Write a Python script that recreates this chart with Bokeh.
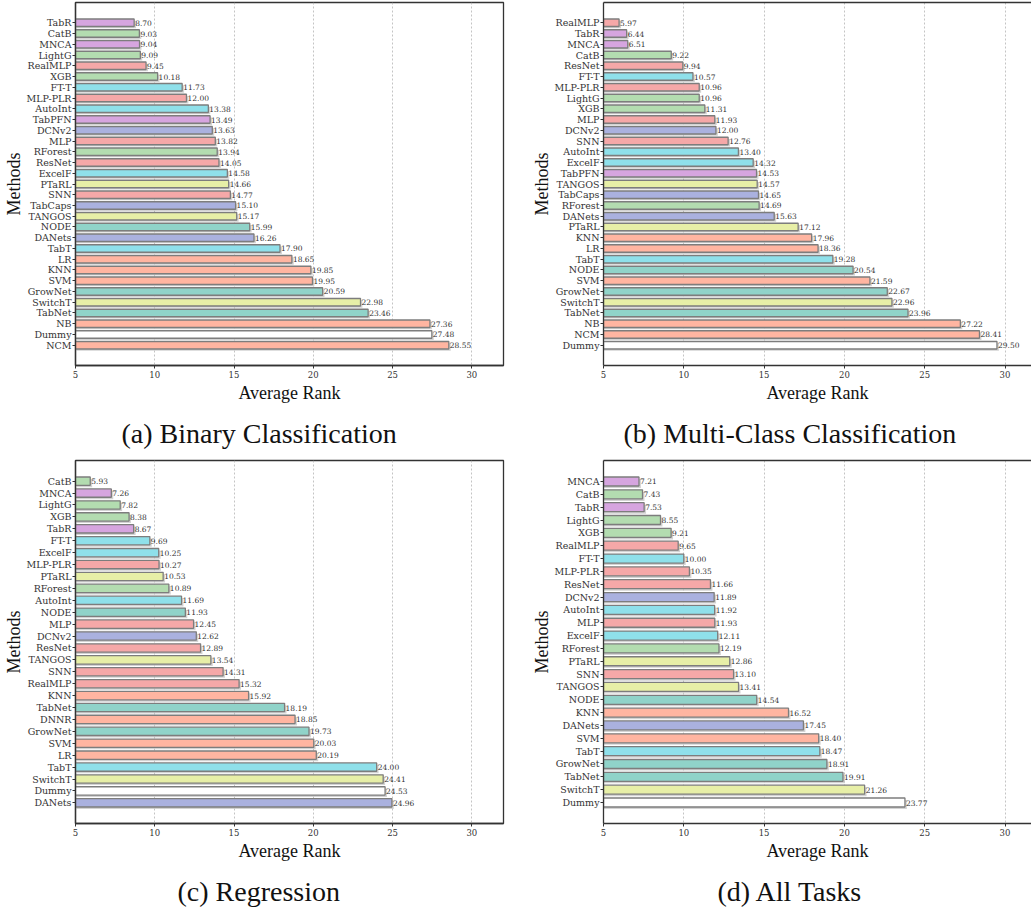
from bokeh.plotting import figure
from bokeh.models import Range1d, FixedTicker, ColumnDataSource, LinearAxis, Title
from bokeh.layouts import column, row
from bokeh.embed import file_html
from bokeh.resources import INLINE
from bokeh.core.properties import value

# ---------------- data ----------------
binary_methods = ["TabR", "CatB", "MNCA", "LightG", "RealMLP", "XGB", "FT-T", "MLP-PLR",
                  "AutoInt", "TabPFN", "DCNv2", "MLP", "RForest", "ResNet", "ExcelF", "PTaRL",
                  "SNN", "TabCaps", "TANGOS", "NODE", "DANets", "TabT", "LR", "KNN", "SVM",
                  "GrowNet", "SwitchT", "TabNet", "NB", "Dummy", "NCM"]
binary_ranks = [8.70, 9.03, 9.04, 9.09, 9.45, 10.18, 11.73, 12.00, 13.38, 13.49, 13.63, 13.82,
                13.94, 14.05, 14.58, 14.66, 14.77, 15.10, 15.17, 15.99, 16.26, 17.90, 18.65,
                19.85, 19.95, 20.59, 22.98, 23.46, 27.36, 27.48, 28.55]

multi_methods = ["RealMLP", "TabR", "MNCA", "CatB", "ResNet", "FT-T", "MLP-PLR", "LightG",
                 "XGB", "MLP", "DCNv2", "SNN", "AutoInt", "ExcelF", "TabPFN", "TANGOS",
                 "TabCaps", "RForest", "DANets", "PTaRL", "KNN", "LR", "TabT", "NODE", "SVM",
                 "GrowNet", "SwitchT", "TabNet", "NB", "NCM", "Dummy"]
multi_ranks = [5.97, 6.44, 6.51, 9.22, 9.94, 10.57, 10.96, 10.96, 11.31, 11.93, 12.00, 12.76,
               13.40, 14.32, 14.53, 14.57, 14.65, 14.69, 15.63, 17.12, 17.96, 18.36, 19.28,
               20.54, 21.59, 22.67, 22.96, 23.96, 27.22, 28.41, 29.50]

reg_methods = ["CatB", "MNCA", "LightG", "XGB", "TabR", "FT-T", "ExcelF", "MLP-PLR", "PTaRL",
               "RForest", "AutoInt", "NODE", "MLP", "DCNv2", "ResNet", "TANGOS", "SNN",
               "RealMLP", "KNN", "TabNet", "DNNR", "GrowNet", "SVM", "LR", "TabT", "SwitchT",
               "Dummy", "DANets"]
reg_ranks = [5.93, 7.26, 7.82, 8.38, 8.67, 9.69, 10.25, 10.27, 10.53, 10.89, 11.69, 11.93,
             12.45, 12.62, 12.89, 13.54, 14.31, 15.32, 15.92, 18.19, 18.85, 19.73, 20.03,
             20.19, 24.00, 24.41, 24.53, 24.96]

all_methods = ["MNCA", "CatB", "TabR", "LightG", "XGB", "RealMLP", "FT-T", "MLP-PLR", "ResNet",
               "DCNv2", "AutoInt", "MLP", "ExcelF", "RForest", "PTaRL", "SNN", "TANGOS", "NODE",
               "KNN", "DANets", "SVM", "TabT", "GrowNet", "TabNet", "SwitchT", "Dummy"]
all_ranks = [7.21, 7.43, 7.53, 8.55, 9.21, 9.65, 10.00, 10.35, 11.66, 11.89, 11.92, 11.93,
             12.11, 12.19, 12.86, 13.10, 13.41, 14.54, 16.52, 17.45, 18.40, 18.47, 18.91,
             19.91, 21.26, 23.77]

captions = ["(a) Binary Classification", "(b) Multi-Class Classification",
            "(c) Regression", "(d) All Tasks"]
x_ticks = [5, 10, 15, 20, 25, 30]

# ---------------- styles ----------------
family_colors = {
    "purple": "#d6a5df", "green": "#b3dcb0", "pink": "#f5a8a8", "cyan": "#8fe0ea",
    "lavender": "#aab1df", "yellow": "#e7efa7", "teal": "#90d3c9", "salmon": "#ffb5a1",
    "white": "#ffffff",
}
method_family = {
    "TabR": "purple", "MNCA": "purple", "TabPFN": "purple",
    "CatB": "green", "LightG": "green", "XGB": "green", "RForest": "green",
    "RealMLP": "pink", "MLP-PLR": "pink", "MLP": "pink", "ResNet": "pink", "SNN": "pink",
    "FT-T": "cyan", "AutoInt": "cyan", "ExcelF": "cyan", "TabT": "cyan",
    "DCNv2": "lavender", "TabCaps": "lavender", "DANets": "lavender",
    "PTaRL": "yellow", "TANGOS": "yellow", "SwitchT": "yellow",
    "NODE": "teal", "GrowNet": "teal", "TabNet": "teal",
    "LR": "salmon", "KNN": "salmon", "SVM": "salmon", "NB": "salmon", "NCM": "salmon",
    "DNNR": "salmon",
    "Dummy": "white",
}

SERIF_TICK = "DejaVu Serif"
SERIF_LABEL = "Liberation Serif"
DARK = "#333333"


def make_panel(methods, ranks, caption, left_side, fig_h, bottom, cap_offset):
    n = len(methods)
    h = 0.7
    margin = 0.05 * (n - 1 + h)
    y_rng = Range1d(start=n - 1 + h / 2 + margin, end=-h / 2 - margin)
    if left_side:
        fig_w, mbr, x_end = 528, 25, 32.0
    else:
        fig_w, mbr, x_end = 503, 0, 31.65
    p = figure(width=fig_w, height=fig_h,
               x_range=Range1d(5, x_end), y_range=y_rng,
               output_backend="svg", toolbar_location=None,
               min_border_left=60, min_border_right=mbr, min_border_top=2,
               min_border_bottom=bottom, background_fill_color="white",
               border_fill_color="white")

    ys = list(range(n))
    src = ColumnDataSource(dict(
        y=ys, rank=ranks, name=methods,
        color=[family_colors[method_family[m]] for m in methods],
        label=["%.2f" % r for r in ranks],
        ys=[y + 0.16 for y in ys],
        rs=[r + 0.12 for r in ranks],
    ))
    # soft shadow
    p.hbar(y="ys", left=0, right="rs", height=h, source=src,
           fill_color="#c4c4c4", fill_alpha=0.75, line_color=None)
    p.hbar(y="y", left=0, right="rank", height=h, source=src,
           fill_color="color", line_color="#7d7d7d", line_width=1.3)
    p.text(x="rank", y="y", text="label", source=src, x_offset=1,
           text_font=value(SERIF_TICK), text_font_size="7.5px",
           text_baseline="middle", text_align="left", text_color=DARK)

    # axes
    p.yaxis.ticker = FixedTicker(ticks=ys)
    p.yaxis.major_label_overrides = {i: m for i, m in enumerate(methods)}
    p.xaxis.ticker = FixedTicker(ticks=x_ticks)
    for ax in (p.xaxis[0], p.yaxis[0]):
        ax.axis_line_color = DARK
        ax.axis_line_width = 1.3
        ax.major_tick_line_color = DARK
        ax.major_tick_in = 0
        ax.major_tick_out = 3
        ax.minor_tick_line_color = None
        ax.major_label_text_font = SERIF_TICK
        ax.major_label_text_color = DARK
        ax.axis_label_text_font = SERIF_LABEL
        ax.axis_label_text_font_style = "normal"
        ax.axis_label_text_font_size = "18px"
        ax.axis_label_text_color = "#111111"
    p.yaxis.major_label_text_font_size = "9.5px"
    p.yaxis.major_label_standoff = 1
    p.yaxis.axis_label_standoff = 0
    p.xaxis.major_label_text_font_size = "8.5px"
    p.xaxis.major_label_standoff = 2
    p.xaxis.axis_label_standoff = 2
    p.xaxis.axis_label = "Average Rank"
    p.yaxis.axis_label = "Methods"

    p.ygrid.grid_line_color = None
    p.xgrid.ticker = FixedTicker(ticks=x_ticks)
    p.xgrid.grid_line_color = "#b5b5b5"
    p.xgrid.grid_line_dash = "2 2"
    p.xgrid.grid_line_width = 0.8

    if left_side:
        p.outline_line_color = DARK
        p.outline_line_width = 1.3
    else:
        p.outline_line_color = None
        top = LinearAxis(ticker=FixedTicker(ticks=[]), axis_line_color=DARK,
                         axis_line_width=1.3, major_tick_line_color=None,
                         minor_tick_line_color=None, major_label_text_font_size="0px")
        p.add_layout(top, "above")

    p.add_layout(Title(text=caption, align="left", offset=cap_offset, standoff=20,
                       text_font=SERIF_LABEL, text_font_size="28px",
                       text_font_style="normal", text_color="#111111"), "below")
    return p


pa = make_panel(binary_methods, binary_ranks, captions[0], True, 458, 90, 46)
pb = make_panel(multi_methods, multi_ranks, captions[1], False, 458, 90, 20)
pc = make_panel(reg_methods, reg_ranks, captions[2], True, 458, 90, 102)
pd = make_panel(all_methods, all_ranks, captions[3], False, 458, 90, 114)

layout = column(row(pa, pb), row(pc, pd))
open("out.html", "w").write(file_html(layout, INLINE))
